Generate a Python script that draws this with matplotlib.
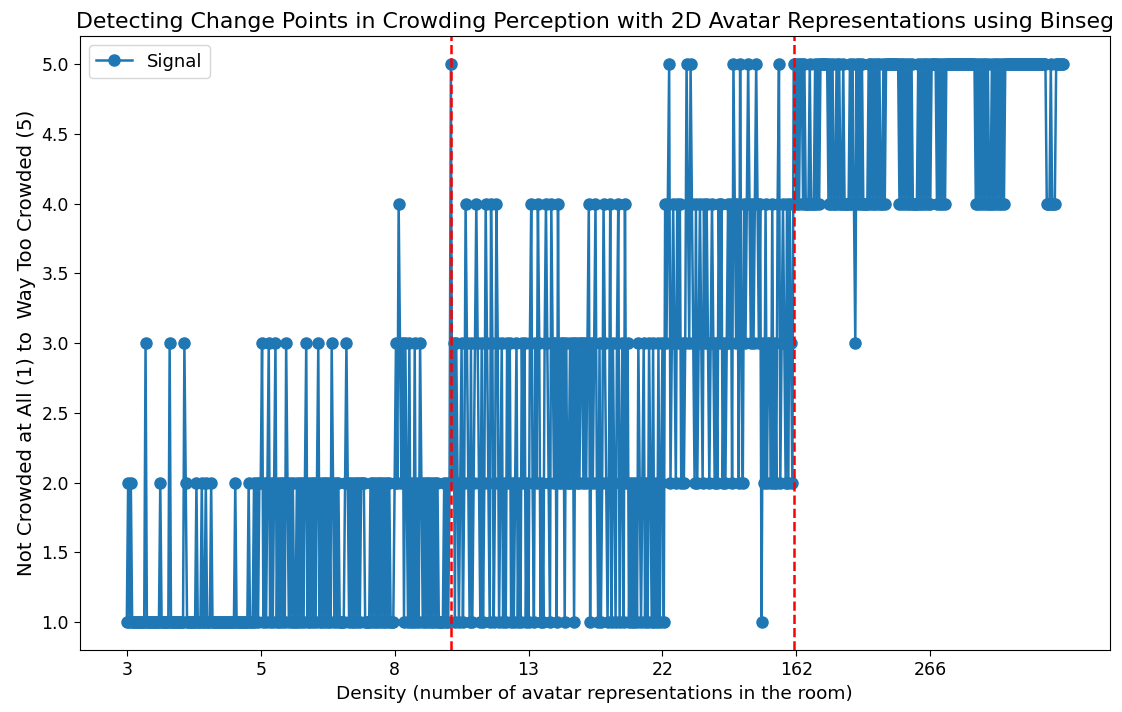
import matplotlib
matplotlib.use('Agg')
import matplotlib.pyplot as plt

# crowding ratings (1-5), one digit per response
signal_part1 = (
    "1212111111" "1111311111" "1111121111" "1131111111" "1113211111"
    "1121112112" "1112111111" "1111111111" "1211111111" "1211121212"
    "2312123121" "2312121213" "2121211212" "1212312121" "2123121212"
    "1213212121" "1112321212" "1212122211" "1121212121" "2121212111"
    "2324323132" "1312131213" "2121212121" "212111121212"
)
signal_part2 = (
    "52313212" "3124321312" "3432131243" "2143124312" "3121323121"
    "2312132312" "1342132431" "2134321432" "3142323132" "2323132323"
    "3232341323" "4213124321" "2413213412" "3142312121" "2132123121"
    "3213121312" "3143452343" "2434232354" "3543242343" "2434323432"
    "3243423234" "3425434253" "2434543434" "5434132423" "3242324523"
    "43242432"
)
signal_part3 = (
    "5545455454" "4454445454" "555555" "4545445454" "4544445454"
    "3545454444" "5454545454" "4545" "555555555" "4545454545"
    "4444" "5454545454" "55554545454" "5555555555555555555555"
    "4545454545445454545454" "555555555555555555555555555"
    "55554445444555555"
)

tick_step = 100
density_labels = [3, 5, 8, 13, 22, 162, 266]
change_points = [242, 498]


def main():
    signal = [int(c) for c in signal_part1 + signal_part2 + signal_part3]

    fig = plt.figure(figsize=(11.22, 7.12), dpi=100)
    ax = fig.add_axes([0.0713, 0.087, 0.9177, 0.862])

    ax.plot(range(len(signal)), signal, marker='o', markersize=8,
            color='#1f77b4', lw=1.8, label='Signal')
    for cp in change_points:
        ax.axvline(cp, color='red', linestyle='--', lw=1.8)

    ax.set_xticks(range(0, len(signal), tick_step))
    ax.set_xticklabels([str(d) for d in density_labels])
    ax.set_yticks([1.0, 1.5, 2.0, 2.5, 3.0, 3.5, 4.0, 4.5, 5.0])
    ax.tick_params(labelsize=12.5, length=4.5)

    ax.set_title('Detecting Change Points in Crowding Perception with 2D Avatar '
                 'Representations using Binseg', fontsize=15.8)
    ax.set_xlabel('Density (number of avatar representations in the room)', fontsize=13.3)
    ax.set_ylabel('Not Crowded at All (1) to  Way Too Crowded (5)', fontsize=14.2)
    ax.legend(loc='upper left', fontsize=13)

    fig.savefig('out.png', dpi=100)


if __name__ == '__main__':
    main()
